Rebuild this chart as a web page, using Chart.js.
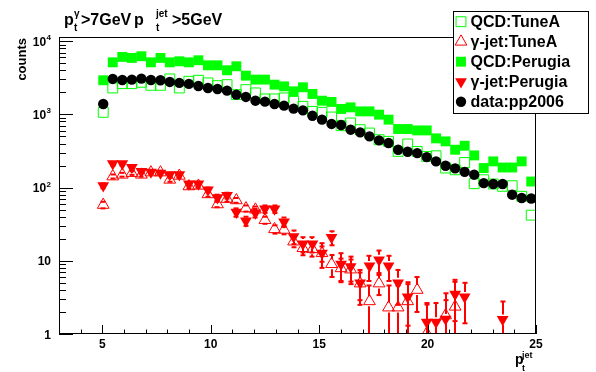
<!DOCTYPE html>
<html>
<head>
<meta charset="utf-8">
<script src="https://cdn.jsdelivr.net/npm/chart.js@4.4.0/dist/chart.umd.min.js"></script>
<style>
  html, body { margin: 0; padding: 0; background: #fff; }
  #wrap { width: 596px; height: 372px; }
</style>
</head>
<body>
<div id="wrap"><canvas id="grafico" width="596" height="372"></canvas></div>
<script>
// centros de los bins en p_t^jet
const ptJet = [5.04, 5.48, 5.92, 6.36, 6.80, 7.24, 7.68, 8.11, 8.55, 8.99,
  9.43, 9.87, 10.31, 10.75, 11.18, 11.62, 12.06, 12.50, 12.94, 13.38,
  13.82, 14.25, 14.69, 15.13, 15.57, 16.01, 16.45, 16.89, 17.32, 17.76,
  18.20, 18.64, 19.08, 19.52, 19.96, 20.39, 20.83, 21.27, 21.71, 22.15,
  22.59, 23.03, 23.46, 23.90, 24.34, 24.78];

const qcdTuneA = [1067, 2296, 2630, 2630, 2742, 2495, 2495, 3048, 2296, 2831,
  2924, 2692, 2472, 2547, 1862, 2178, 1963, 1626, 1626, 1679,
  1507, 1288, 1099, 1067, 920, 700, 762, 618, 556, 451,
  428, 312, 394, 312, 266, 272, 185, 175, 220, 113,
  128, 112, 104, 106, 76, 42];

const gammaTuneA = [58, 142, 150, 158, 150, 161, 161, 128, 145, 104,
  106, 81, 59, 70, 67, 52, 50, 36, 27, 26.5,
  18.3, 14.9, 14.4, 12.7, 9.0, 7.9, 7.6, 4.9, 2.8, 4.9,
  2.3, 2.3, 2.8, 4.0, 1.02, null, 1.8, 2.36, null, null,
  null, null, null, null, null, null];

const qcdPerugia = [2924, 5140, 6095, 5902, 6223, 5140, 5902, 5140, 5309, 5140,
  5483, 4677, 4677, 4000, 4539, 3381, 2985, 2985, 2547, 2415,
  2065, 2344, 1901, 1538, 1479, 1186, 1247, 1099, 1099, 991,
  847, 631, 631, 604, 604, 470, 428, 329, 373, 275,
  185, 228, 188, 188, 228, 121];

const gammaPerugia = [106, 212, 212, 188, 166, 163, 158, 150, 150, 112,
  112, 93, 73, 78, 46, 35, 45, 51, 51, 34,
  21.4, 17.0, 17.0, 12.7, 20.8, 9.0, 8.3, 5.0, 8.5, 10.3,
  8.5, 5.0, 3.2, null, 1.45, 1.45, 1.6, 3.5, 3.2, null,
  null, null, 1.58, null, null, null];

const dataPP2006 = [1387, 3048, 2951, 2985, 3076, 2951, 2924, 2773, 2692, 2606,
  2443, 2296, 2223, 2109, 1862, 1730, 1538, 1493, 1387, 1315,
  1197, 1135, 959, 847, 740, 716, 618, 568, 500, 441,
  406, 329, 309, 296, 261, 228, 199, 183, 164, 150,
  115, 112, 112, 80, 72, 71];

// errores de los puntos gamma-jet (solo visibles en la cola)
const errGammaTuneA = [6, 9, 9, 9, 9, 9, 9, 8, 9, 7,
  7, 6, 5, 6, 5, 5, 5, 4, 3.5, 3.5,
  3, 3, 3, 3, 3, 2.8, 2.8, 2, 1.8, 1.5,
  2.3, 2.3, 2, 2, 1.5, null, 1.8, 2.8, null, null,
  null, null, null, null, null, null];

const errGammaPerugia = [8, 12, 12, 11, 10, 10, 10, 10, 10, 8,
  8, 7, 7, 7, 6, 5, 6, 6, 6, 5,
  4.5, 4, 4, 4.7, 4.5, 3.7, 3.1, 2.5, 3.2, 3.5,
  3.2, 2.5, 1.9, null, 1.2, 1.2, 1.3, 2.0, 1.8, null,
  null, null, 1.2, null, null, null];

const nombresSeries = ['QCD:TuneA', '\u03b3-jet:TuneA', 'QCD:Perugia', '\u03b3-jet:Perugia', 'data:pp2006'];

const xMayores = [5, 10, 15, 20, 25];
const xMenores = [4, 6, 7, 8, 9, 11, 12, 13, 14, 16, 17, 18, 19, 21, 22, 23, 24];
const yMayores = [1, 10, 100, 1000, 10000];
const yEtiquetas = [['1', ''], ['10', ''], ['10', '2'], ['10', '3'], ['10', '4']];

const VERDE = '#00ff00';
const ROJO = '#ff0000';
const FUENTE = '"Liberation Sans", Arial, Helvetica, sans-serif';

function puntos(valores) {
  return ptJet.map((x, i) => ({ x: x, y: valores[i] }));
}

const estilos = [
  { pointStyle: 'rect', radius: 7, rotation: 0, fondo: 'rgba(0,0,0,0)', borde: VERDE, ancho: 1 },
  { pointStyle: 'triangle', radius: 6.8, rotation: 0, fondo: 'rgba(0,0,0,0)', borde: ROJO, ancho: 1 },
  { pointStyle: 'rect', radius: 7, rotation: 0, fondo: VERDE, borde: VERDE, ancho: 0 },
  { pointStyle: 'triangle', radius: 6.8, rotation: 180, fondo: ROJO, borde: ROJO, ancho: 0 },
  { pointStyle: 'circle', radius: 5.2, rotation: 0, fondo: '#000', borde: '#000', ancho: 0 }
];
const valoresSeries = [qcdTuneA, gammaTuneA, qcdPerugia, gammaPerugia, dataPP2006];

const datasets = valoresSeries.map((vals, i) => ({
  label: nombresSeries[i],
  data: puntos(vals),
  showLine: false,
  pointStyle: estilos[i].pointStyle,
  pointRadius: estilos[i].radius,
  pointRotation: estilos[i].rotation,
  pointBackgroundColor: estilos[i].fondo,
  pointBorderColor: estilos[i].borde,
  pointBorderWidth: estilos[i].ancho,
  pointHoverRadius: estilos[i].radius,
  order: 4 - i
}));

function barrasError(chart, valores, errores) {
  const { ctx, chartArea: a, scales: { x, y } } = chart;
  const hueco = 5;
  ptJet.forEach((xv, i) => {
    const v = valores[i];
    const e = errores[i];
    if (v == null || e == null) return;
    const px = Math.round(x.getPixelForValue(xv));
    const py = y.getPixelForValue(v);
    const arriba = y.getPixelForValue(v + e);
    const abajo = v - e > 0 ? y.getPixelForValue(v - e) : a.bottom + 4;
    ctx.beginPath();
    if (py - hueco > arriba) { ctx.moveTo(px, arriba); ctx.lineTo(px, py - hueco); }
    if (py + hueco < abajo) { ctx.moveTo(px, py + hueco); ctx.lineTo(px, abajo); }
    ctx.stroke();
    ctx.fillRect(px - 2.5, arriba - 1, 5, 2);
    if (v - e > 0) ctx.fillRect(px - 2.5, abajo - 1, 5, 2);
  });
}

function textoCompuesto(ctx, piezas) {
  piezas.forEach(p => {
    ctx.font = 'bold ' + p[3] + 'px ' + FUENTE;
    ctx.fillText(p[0], p[1], p[2]);
  });
}

function marcador(ctx, est, x, y) {
  ctx.save();
  ctx.fillStyle = est.fondo;
  ctx.strokeStyle = est.borde;
  ctx.lineWidth = est.ancho;
  if (Chart.helpers && Chart.helpers.drawPoint) {
    Chart.helpers.drawPoint(ctx, { pointStyle: est.pointStyle, rotation: est.rotation, radius: est.radius, borderWidth: est.ancho }, x, y);
  }
  ctx.restore();
}

const marcoRoot = {
  id: 'marcoRoot',
  beforeDatasetsDraw(chart) {
    const { ctx, chartArea: a } = chart;
    ctx.save();
    ctx.beginPath();
    ctx.rect(a.left, a.top, a.right - a.left, a.bottom - a.top);
    ctx.clip();
    ctx.strokeStyle = ROJO;
    ctx.fillStyle = ROJO;
    ctx.lineWidth = 2;
    barrasError(chart, gammaTuneA, errGammaTuneA);
    barrasError(chart, gammaPerugia, errGammaPerugia);
    ctx.restore();
  },
  afterDatasetsDraw(chart) {
    const { ctx, chartArea: a, scales: { x, y } } = chart;
    ctx.save();
    ctx.strokeStyle = '#000';
    ctx.fillStyle = '#000';
    ctx.lineWidth = 1;

    // marco
    ctx.strokeRect(a.left + 0.5, a.top + 0.5, a.right - a.left - 1, a.bottom - a.top - 1);

    // ticks eje y
    const largoY = 14;
    ctx.beginPath();
    yMayores.forEach(v => {
      const py = Math.round(y.getPixelForValue(v)) + 0.5;
      ctx.moveTo(a.left, py); ctx.lineTo(a.left + largoY, py);
    });
    for (let d = 1; d < 10000; d *= 10) {
      for (let k = 2; k <= 9; k++) {
        const py = Math.round(y.getPixelForValue(d * k)) + 0.5;
        ctx.moveTo(a.left, py); ctx.lineTo(a.left + largoY / 2, py);
      }
    }
    // ticks eje x
    const largoX = 9;
    xMayores.forEach(v => {
      const px = Math.round(x.getPixelForValue(v)) + 0.5;
      ctx.moveTo(px, a.bottom); ctx.lineTo(px, a.bottom - largoX);
    });
    xMenores.forEach(v => {
      const px = Math.round(x.getPixelForValue(v)) + 0.5;
      ctx.moveTo(px, a.bottom); ctx.lineTo(px, a.bottom - largoX / 2);
    });
    ctx.stroke();

    // etiquetas eje x
    ctx.font = 'bold 12px ' + FUENTE;
    ctx.textAlign = 'center';
    ctx.textBaseline = 'alphabetic';
    xMayores.forEach(v => {
      ctx.fillText(String(v), x.getPixelForValue(v), 347.5);
    });

    // etiquetas eje y
    ctx.textAlign = 'left';
    yMayores.forEach((v, i) => {
      const py = y.getPixelForValue(v);
      const [base, exp] = yEtiquetas[i];
      ctx.font = 'bold 12px ' + FUENTE;
      const wBase = ctx.measureText(base).width;
      ctx.font = 'bold 8px ' + FUENTE;
      const wExp = exp ? ctx.measureText(exp).width + 0.5 : 0;
      const x0 = 51 - wBase - wExp;
      ctx.font = 'bold 12px ' + FUENTE;
      ctx.fillText(base, x0, py + 4.5);
      if (exp) {
        ctx.font = 'bold 8px ' + FUENTE;
        ctx.fillText(exp, x0 + wBase + 0.5, py - 1);
      }
    });

    // titulo del eje y
    ctx.save();
    ctx.translate(26, a.top + 1);
    ctx.rotate(-Math.PI / 2);
    ctx.textAlign = 'right';
    ctx.font = 'bold 13px ' + FUENTE;
    ctx.fillText('counts', 0, 0);
    ctx.restore();

    // titulo del eje x
    ctx.textAlign = 'left';
    textoCompuesto(ctx, [
      ['p', 515, 364, 14],
      ['jet', 522, 357.5, 9],
      ['t', 522, 371, 9]
    ]);

    // titulo
    textoCompuesto(ctx, [
      ['p', 64, 25, 16],
      ['\u03b3', 74, 17, 10],
      ['t', 74, 31, 10],
      ['>7GeV', 81, 25, 16],
      ['p', 134, 25, 16],
      ['jet', 156, 17, 10],
      ['t', 156, 31, 10],
      ['>5GeV', 172, 25, 16]
    ]);

    // leyenda
    const lx = 453, ly = 11, lw = 135, lh = 102;
    ctx.fillStyle = '#fff';
    ctx.fillRect(lx, ly, lw, lh);
    ctx.strokeStyle = '#000';
    ctx.strokeRect(lx + 0.5, ly + 0.5, lw, lh);
    nombresSeries.forEach((nombre, i) => {
      const cy = 21.7 + 20 * i;
      marcador(ctx, estilos[i], 461, cy);
      ctx.fillStyle = '#000';
      ctx.font = 'bold 16px ' + FUENTE;
      ctx.textAlign = 'left';
      ctx.fillText(nombre, 470.5, cy + 5.7);
    });
    ctx.restore();
  }
};

new Chart(document.getElementById('grafico'), {
  type: 'scatter',
  data: { datasets: datasets },
  options: {
    responsive: false,
    animation: false,
    devicePixelRatio: 1,
    layout: { padding: { left: 59, right: 60, top: 37, bottom: 38 } },
    scales: {
      x: { type: 'linear', min: 3, max: 25, display: false },
      y: { type: 'logarithmic', min: 1, max: 11400, display: false }
    },
    plugins: {
      legend: { display: false },
      tooltip: { enabled: false }
    }
  },
  plugins: [marcoRoot]
});
</script>
</body>
</html>
